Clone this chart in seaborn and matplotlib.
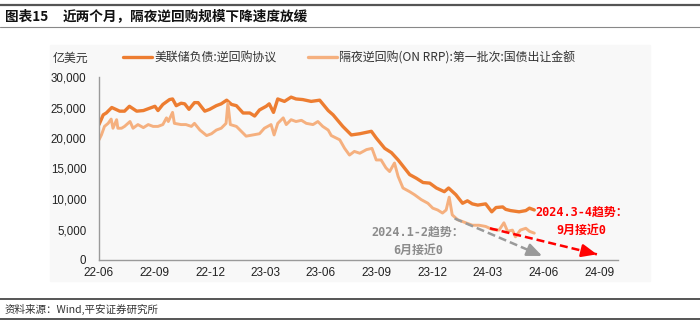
import matplotlib
matplotlib.use('Agg')
import matplotlib.pyplot as plt
import matplotlib.dates as mdates
from matplotlib.lines import Line2D
from matplotlib.patches import Rectangle
from matplotlib.ticker import MultipleLocator, FuncFormatter
import seaborn as sns
import pandas as pd

# ---------------- data (亿美元) ----------------
dark_dates = [
    '2022-06-01', '2022-06-08', '2022-06-13', '2022-06-22', '2022-07-05', '2022-07-13',
    '2022-07-21', '2022-08-02', '2022-08-13', '2022-09-01', '2022-09-06', '2022-09-14',
    '2022-09-25', '2022-09-30', '2022-10-06', '2022-10-14', '2022-10-20', '2022-10-27',
    '2022-11-05', '2022-11-11', '2022-11-22', '2022-11-30', '2022-12-11', '2022-12-19',
    '2022-12-28', '2023-01-05', '2023-01-13', '2023-01-24', '2023-02-04', '2023-02-12',
    '2023-02-20', '2023-03-03', '2023-03-08', '2023-03-15', '2023-03-22', '2023-04-02',
    '2023-04-13', '2023-04-21', '2023-05-02', '2023-05-16', '2023-05-30', '2023-06-13',
    '2023-06-21', '2023-07-07', '2023-07-21', '2023-08-04', '2023-08-23', '2023-08-31',
    '2023-09-14', '2023-09-25', '2023-10-06', '2023-10-25', '2023-11-05', '2023-11-16',
    '2023-11-27', '2023-12-08', '2023-12-21', '2023-12-28', '2024-01-09', '2024-01-20',
    '2024-01-28', '2024-02-05', '2024-02-14', '2024-02-27', '2024-03-08', '2024-03-15',
    '2024-03-26', '2024-03-31', '2024-04-08', '2024-04-22', '2024-05-03', '2024-05-09',
    '2024-05-17',
]
dark_values = [
    22200, 23800, 24100, 25000, 24400, 24400,
    25200, 24400, 24500, 25200, 24500, 25500,
    26300, 26400, 25300, 25700, 25600, 24700,
    25800, 25800, 24400, 24700, 25300, 25600,
    26200, 25500, 25300, 24100, 24100, 23600,
    24600, 25200, 25600, 24200, 26400, 26000,
    26700, 26400, 26300, 26000, 26200, 24500,
    23800, 21900, 20500, 20700, 21100, 20000,
    18300, 17600, 16400, 14000, 13400, 12700,
    12600, 11800, 11200, 11800, 10700, 9300,
    9700, 9200, 9000, 9200, 7900, 8600,
    8700, 8300, 8100, 7900, 8100, 8500,
    8200,
]

light_dates = [
    '2022-06-01', '2022-06-05', '2022-06-10', '2022-06-16', '2022-06-21', '2022-06-24',
    '2022-06-30', '2022-07-02', '2022-07-08', '2022-07-13', '2022-07-22', '2022-07-27',
    '2022-08-04', '2022-08-13', '2022-08-21', '2022-08-29', '2022-09-06', '2022-09-14',
    '2022-09-20', '2022-09-23', '2022-09-30', '2022-10-03', '2022-10-14', '2022-10-22',
    '2022-10-31', '2022-11-05', '2022-11-14', '2022-11-25', '2022-12-03', '2022-12-11',
    '2022-12-19', '2022-12-27', '2022-12-30', '2023-01-03', '2023-01-13', '2023-01-21',
    '2023-01-29', '2023-02-09', '2023-02-20', '2023-02-28', '2023-03-11', '2023-03-16',
    '2023-03-22', '2023-03-31', '2023-04-05', '2023-04-13', '2023-04-21', '2023-04-30',
    '2023-05-08', '2023-05-19', '2023-05-27', '2023-06-04', '2023-06-13', '2023-06-18',
    '2023-06-26', '2023-07-02', '2023-07-10', '2023-07-18', '2023-07-26', '2023-08-04',
    '2023-08-15', '2023-08-24', '2023-08-31', '2023-09-08', '2023-09-16', '2023-09-22',
    '2023-09-30', '2023-10-06', '2023-10-14', '2023-10-25', '2023-11-02', '2023-11-13',
    '2023-11-24', '2023-12-02', '2023-12-10', '2023-12-18', '2023-12-24', '2023-12-29',
    '2024-01-03', '2024-01-12', '2024-01-20', '2024-01-28', '2024-02-05', '2024-02-16',
    '2024-02-27', '2024-03-09', '2024-03-20', '2024-03-28', '2024-04-03', '2024-04-11',
    '2024-04-16', '2024-04-24', '2024-05-03', '2024-05-09', '2024-05-17',
]
light_values = [
    19700, 20500, 21900, 22400, 23100, 21600,
    23000, 21600, 21600, 21900, 22700, 21600,
    22200, 21700, 22200, 21900, 21900, 22200,
    23300, 22700, 24200, 22400, 22200, 22200,
    21900, 22400, 21300, 20400, 20700, 21300,
    21600, 22400, 25700, 22200, 21900, 21100,
    20300, 20500, 20700, 21600, 22200, 20500,
    22400, 23300, 22200, 23000, 22700, 22900,
    22400, 22200, 22700, 21900, 21300, 20400,
    20000, 19700, 18300, 17200, 17800, 17500,
    18100, 18300, 16400, 16400, 15100, 14500,
    15900, 13700, 11800, 11200, 10700, 9900,
    9300, 8500, 8200, 7700, 8200, 10300,
    7400, 6600, 6300, 6000, 5700, 5700,
    5500, 5000, 4900, 6100, 4700, 4900,
    3800, 4900, 5200, 4700, 4400,
]

series_names = ['美联储负债:逆回购协议', '隔夜逆回购(ON RRP):第一批次:国债出让金额']

# trend arrows: (start date, start value) -> (end date, end value)
gray_arrow_dates = ['2024-01-07', '2024-05-30']
gray_arrow_values = [6800, 660]
red_arrow_dates = ['2024-03-05', '2024-08-28']
red_arrow_values = [5200, 930]
gray_note = '2024.1-2趋势：\n6月接近0'
red_note = '2024.3-4趋势：\n9月接近0'
gray_note_pos = ('2023-11-08', 3100)
red_note_pos = ('2024-08-03', 6400)

title_tag = '图表15'
title_text = '近两个月，隔夜逆回购规模下降速度放缓'
unit_text = '亿美元'
source_text = '资料来源：Wind,平安证券研究所'

# ---------------- style ----------------
sns.set_theme(style='white')
plt.rcParams['font.family'] = ['Liberation Sans', 'Noto Sans CJK SC', 'DejaVu Sans']
plt.rcParams['axes.unicode_minus'] = False

DARK = '#ED7D31'
LIGHT = '#F5B07F'
CJK = ['Noto Sans CJK SC', 'DejaVu Sans']
MONO = ['DejaVu Sans Mono', 'Noto Sans CJK SC']

W, H = 700, 326
fig = plt.figure(figsize=(W / 100, H / 100), dpi=100)
fig.patch.set_facecolor('white')

# faint background block of the embedded chart
fig.patches.append(Rectangle((50 / W, 1 - 281 / H), (650 - 50) / W, (281 - 45) / H,
                             transform=fig.transFigure, color='#f8f8f8', zorder=-5))

ax = fig.add_axes([99 / W, 1 - 260 / H, (617.6 - 99) / W, (260 - 77) / H])
ax.set_facecolor('none')

df_dark = pd.DataFrame({'date': pd.to_datetime(dark_dates), 'value': dark_values})
df_light = pd.DataFrame({'date': pd.to_datetime(light_dates), 'value': light_values})

sns.lineplot(data=df_dark, x='date', y='value', ax=ax, color=DARK, lw=2.4)
sns.lineplot(data=df_light, x='date', y='value', ax=ax, color=LIGHT, lw=2.1)

ax.set_xlim(pd.Timestamp('2022-06-01'), pd.Timestamp('2024-10-01'))
ax.set_ylim(0, 30000)
ax.set_xlabel('')
ax.set_ylabel('')
ax.xaxis.set_major_locator(mdates.MonthLocator(bymonth=[3, 6, 9, 12]))
ax.xaxis.set_major_formatter(mdates.DateFormatter('%y-%m'))
ax.xaxis.set_minor_locator(mdates.MonthLocator())
ax.yaxis.set_major_locator(MultipleLocator(5000))
ax.yaxis.set_major_formatter(FuncFormatter(lambda v, p: f'{int(v):,}'))

for s in ['top', 'right']:
    ax.spines[s].set_visible(False)
for s in ['left', 'bottom']:
    ax.spines[s].set_color('#9a9a9a')
    ax.spines[s].set_linewidth(1.0)

ax.tick_params(axis='x', which='both', direction='in', length=3, width=0.8,
               color='#9a9a9a', labelsize=8.5, pad=5, labelcolor='#222222')
ax.tick_params(axis='y', which='both', direction='in', length=3, width=0.8,
               color='#9a9a9a', labelsize=8.3, pad=9, labelcolor='#222222')


def dn(d):
    return mdates.date2num(pd.Timestamp(d))


def trend_arrow(dates, values, color):
    x0, x1 = dn(dates[0]), dn(dates[1])
    # dashed shaft
    ax.plot([x0, x1], [values[0], values[1]], color=color, lw=1.8,
            linestyle=(0, (3.2, 1.6)), solid_capstyle='butt', zorder=4)
    # solid filled head at the end point
    ax.annotate('', xy=(x1, values[1]),
                xytext=(x0 + (x1 - x0) * 0.93, values[0] + (values[1] - values[0]) * 0.93),
                arrowprops=dict(arrowstyle='-|>,head_length=0.75,head_width=0.32',
                                color=color, lw=1.8, shrinkA=0, shrinkB=0), zorder=5)


trend_arrow(gray_arrow_dates, gray_arrow_values, '#9a9a9a')
trend_arrow(red_arrow_dates, red_arrow_values, '#ff0000')

ax.text(dn(gray_note_pos[0]), gray_note_pos[1], gray_note, ha='center', va='center',
        color='#8c8c8c', fontsize=8.6, fontweight='bold', family=MONO, linespacing=1.55)
ax.text(dn(red_note_pos[0]), red_note_pos[1], red_note, ha='center', va='center',
        color='#ff0000', fontsize=8.6, fontweight='bold', family=MONO, linespacing=1.55)

# legend
handles = [Line2D([], [], color=DARK, lw=2.4), Line2D([], [], color=LIGHT, lw=2.4)]
leg = fig.legend(handles, series_names, loc='center left',
                 bbox_to_anchor=(123 / W, 1 - 58 / H), ncol=2, frameon=False,
                 borderpad=0, borderaxespad=0, handlelength=2.4, handletextpad=0.25,
                 columnspacing=2.6, prop={'family': CJK, 'size': 8.6})
for t in leg.get_texts():
    t.set_color('#333333')

fig.text(70.5 / W, 1 - 58 / H, unit_text, ha='center', va='center', fontsize=8.6,
         family=CJK, color='#333333')

# title and frame lines
fig.add_artist(Line2D([0, 1], [1 - 4.5 / H] * 2, color='#555555', lw=1.6))
fig.add_artist(Line2D([0, 1], [1 - 26.5 / H] * 2, color='#888888', lw=0.8))
fig.text(5 / W, 1 - 16.5 / H, title_tag, ha='left', va='center', fontsize=9.8,
         fontweight='bold', family=CJK, color='#111111')
fig.text(63 / W, 1 - 16.5 / H, title_text, ha='left', va='center', fontsize=9.8,
         fontweight='bold', family=CJK, color='#111111')

fig.add_artist(Line2D([0, 1], [1 - 299 / H] * 2, color='#555555', lw=1.4))
fig.add_artist(Line2D([0, 1], [1 - 319 / H] * 2, color='#555555', lw=1.4))
fig.text(5 / W, 1 - 309 / H, source_text, ha='left', va='center', fontsize=7.6,
         family=CJK, color='#333333')

fig.savefig('out.png', dpi=100, facecolor='white')
